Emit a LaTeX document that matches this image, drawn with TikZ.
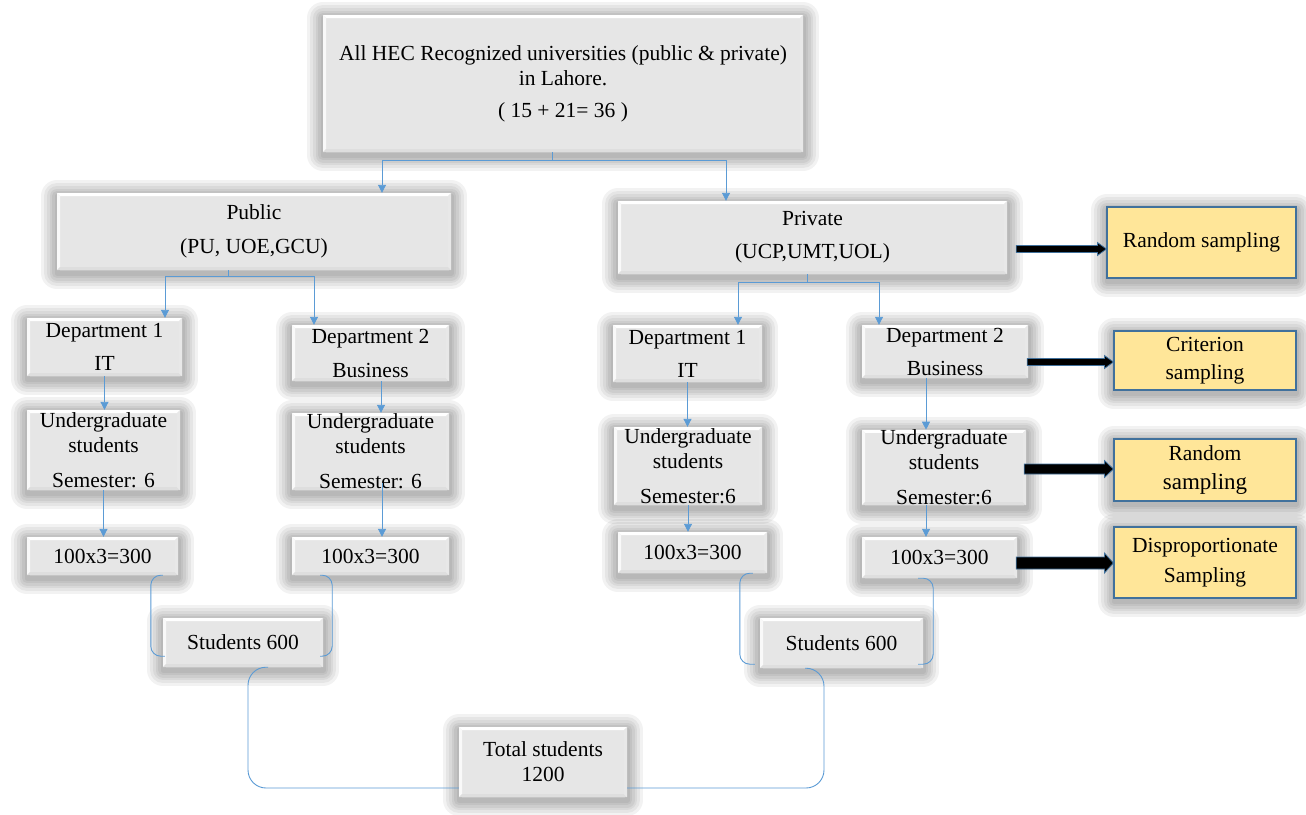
\documentclass[tikz,border=0pt]{standalone}
\usepackage{fontspec}
\setmainfont{Liberation Serif}
\usetikzlibrary{arrows.meta,calc}
\definecolor{boxgray}{HTML}{E6E6E6}
\definecolor{conblue}{HTML}{5B9BD5}
\definecolor{sampfill}{HTML}{FFE699}
\definecolor{sampline}{HTML}{41719C}
\tikzset{
  glowlayer/.style={preaction={draw=black,draw opacity=0.05,line width=#1,line join=round,fill opacity=0,transform canvas={yshift=-3pt}}},
  glow/.style={glowlayer=32pt,glowlayer=26pt,glowlayer=20pt,glowlayer=15pt,glowlayer=10pt,glowlayer=5pt},
  bevel/.style={path picture={
    \fill[white] (path picture bounding box.north west) -- (path picture bounding box.north east)
      -- ([shift={(-3pt,-3pt)}]path picture bounding box.north east) -- ([shift={(3pt,-3pt)}]path picture bounding box.north west) -- cycle;
    \fill[white!75!boxgray] (path picture bounding box.north west) -- (path picture bounding box.south west)
      -- ([shift={(3pt,3pt)}]path picture bounding box.south west) -- ([shift={(3pt,-3pt)}]path picture bounding box.north west) -- cycle;
    \fill[black!13] (path picture bounding box.south west) -- (path picture bounding box.south east)
      -- ([shift={(-3pt,3pt)}]path picture bounding box.south east) -- ([shift={(3pt,3pt)}]path picture bounding box.south west) -- cycle;
    \fill[black!9] (path picture bounding box.north east) -- (path picture bounding box.south east)
      -- ([shift={(-3pt,3pt)}]path picture bounding box.south east) -- ([shift={(-3pt,-3pt)}]path picture bounding box.north east) -- cycle;
  }},
  gbox/.style={glow,bevel,fill=boxgray,draw=none,inner sep=0pt,align=center,font=\fontsize{21.5}{25}\selectfont},
  ybox/.style={glow,fill=sampfill,draw=sampline,line width=1.2pt,inner sep=0pt,align=center,font=\fontsize{21.5}{25}\selectfont},
  conn/.style={draw=conblue,line width=0.9pt},
  tip/.style={-{Triangle[length=8pt,width=8pt]}},
}
\newcommand\blockarrow[4]{%
  \filldraw[fill=black,draw=sampline,line width=0.8pt,line join=miter]
    ($(#1)+(0,#3)$) -- ($(#2)+(-9,#3)$) -- ($(#2)+(-9,#4)$) -- (#2)
    -- ($(#2)+(-9,-#4)$) -- ($(#2)+(-9,-#3)$) -- ($(#1)+(0,-#3)$) -- cycle;}
\begin{document}
\begin{tikzpicture}[x=1pt,y=-1pt]
\fill[white] (0,0) rectangle (1306,814);
\useasboundingbox (0,0) rectangle (1306,814);

% top
\node[gbox,minimum width=480,minimum height=137] (top) at (563,83.5)
  {All HEC Recognized universities (public \& private)\\in Lahore.\\[7pt]( 15 + 21= 36 )};

% public branch
\node[gbox,minimum width=394,minimum height=77] (pub) at (254,231.5) {Public\\[9pt](PU, UOE,GCU)};
\node[gbox,minimum width=155,minimum height=58] (pd1) at (104.5,347) {Department 1\\[8pt]IT};
\node[gbox,minimum width=157,minimum height=56] (pd2) at (370.5,353) {Department 2\\[9pt]Business};
\node[gbox,minimum width=153,minimum height=80] (pu1) at (103.5,450) {Undergraduate\\students\\[10pt]Semester: 6};
\node[gbox,minimum width=157,minimum height=77] (pu2) at (370.5,451.5) {Undergraduate\\students\\[10pt]Semester: 6};
\node[gbox,minimum width=151,minimum height=38] (pn1) at (102.5,556) {100x3=300};
\node[gbox,minimum width=157,minimum height=38] (pn2) at (370.5,556) {100x3=300};
\node[gbox,minimum width=160,minimum height=49] (ps) at (243,642.5) {Students 600};

% private branch
\node[gbox,minimum width=389,minimum height=73] (priv) at (812.5,237.5) {Private\\[8pt](UCP,UMT,UOL)};
\node[gbox,minimum width=149,minimum height=57] (rd1) at (687.5,353.5) {Department 1\\[8pt]IT};
\node[gbox,minimum width=166,minimum height=53] (rd2) at (945,351.5) {Department 2\\[8pt]Business};
\node[gbox,minimum width=148,minimum height=78] (ru1) at (688,466) {Undergraduate\\students\\[10pt]Semester:6};
\node[gbox,minimum width=164,minimum height=75] (ru2) at (944,467.5) {Undergraduate\\students\\[10pt]Semester:6};
\node[gbox,minimum width=149,minimum height=41] (rn1) at (692.5,552.5) {100x3=300};
\node[gbox,minimum width=155,minimum height=41] (rn2) at (939.5,557.5) {100x3=300};
\node[gbox,minimum width=163,minimum height=50] (rs) at (841.5,643) {Students 600};

% total
\node[gbox,minimum width=168,minimum height=70] (total) at (543,762) {Total students\\1200};

% sampling boxes
\node[ybox,minimum width=189,minimum height=71] (y1) at (1201.5,242.5) {Random sampling};
\node[ybox,minimum width=182,minimum height=59] (y2) at (1205,360.5) {Criterion\\[3pt]sampling};
\node[ybox,minimum width=182,minimum height=62] (y3) at (1205,470) {Random\\[4pt]{\fontsize{23}{25}\selectfont sampling}};
\node[ybox,minimum width=182,minimum height=71] (y4) at (1205,562.5) {Disproportionate\\[5pt]Sampling};

% connectors from top
\draw[conn] ([xshift=-11pt]top.south) -- ++(0,8) coordinate (tj);
\draw[conn,tip] (tj) -| ([xshift=128pt]pub.north);
\draw[conn,tip] (tj) -| ([xshift=-86.5pt]priv.north);

% public connectors
\draw[conn] ([xshift=-26pt]pub.south) -- ++(0,6) coordinate (pj);
\draw[conn,tip] (pj) -| ([xshift=60.5pt]pd1.north);
\draw[conn,tip] (pj) -| ([xshift=-56.5pt]pd2.north);
\draw[conn,tip] (pd1.south) -- (pd1.south |- pu1.north);
\draw[conn,tip] (pu1.south) -- (pu1.south |- pn1.north);
\coordinate (c1) at ($(pd2.south)+(10.5,0)$);
\draw[conn,tip] (c1) -- (c1 |- pu2.north);
\coordinate (c2) at ($(pu2.south)+(11.5,-7)$);
\draw[conn,tip] (c2) -- (c2 |- pn2.north);

% private connectors
\draw[conn] ([xshift=-5.5pt]priv.south) -- ++(0,8) coordinate (rj);
\draw[conn,tip] (rj) -| ([xshift=50.5pt]rd1.north);
\draw[conn,tip] (rj) -| ([xshift=-66pt]rd2.north);
\draw[conn,tip] (rd1.south) -- (rd1.south |- ru1.north);
\draw[conn,tip] (ru1.south) -- (ru1.south |- rn1.north);
\coordinate (c3) at ($(rd2.south)+(-19,0)$);
\draw[conn,tip] (c3) -- (c3 |- ru2.north);
\coordinate (c4) at ($(ru2.south)+(-18,0)$);
\draw[conn,tip] (c4) -- (c4 |- rn2.north);

% brackets to Students 600
\draw[conn,rounded corners=10pt] (ps.west |- pn1.south) -- ++(-12,0) |- ($(ps.south west)+(2,-11)$);
\draw[conn,rounded corners=10pt] ($(ps.east |- pn2.south)+(-3,0)$) -- ++(12,0) |- ($(ps.south east)+(-3,-11)$);
\draw[conn,rounded corners=10pt] ($(rs.west |- rn1.south)+(-7,0)$) -- ++(-13,0) |- ($(rs.south west)+(-5,-4)$);
\draw[conn,rounded corners=10pt] ($(rs.east |- rn2.south)+(-5,0)$) -- ++(15,0) |- ($(rs.south east)+(-5,-4)$);

% brackets to total
\draw[conn,rounded corners=18pt] ($(ps.south)+(25,0)$) -- ++(-20,0) |- ($(total.west)+(0,26)$);
\draw[conn,rounded corners=18pt] ($(rs.south)+(-36.5,0)$) -- ++(19,0) |- ($(total.east)+(0,26)$);

% block arrows to sampling boxes
\coordinate (a1) at ($(priv.east)+(9,11.5)$);
\coordinate (a1e) at (a1 -| y1.west);
\blockarrow{a1}{a1e}{3.5}{6.5}
\coordinate (a2) at ($(rd2.east)+(-1,10.5)$);
\coordinate (a2e) at (a2 -| y2.west);
\blockarrow{a2}{a2e}{3.5}{6.5}
\coordinate (a3) at ($(ru2.east)+(-2,1.5)$);
\coordinate (a3e) at (a3 -| y3.west);
\blockarrow{a3}{a3e}{5}{8.5}
\coordinate (a4) at ($(rn2.east)+(-1,5.5)$);
\coordinate (a4e) at (a4 -| y4.west);
\blockarrow{a4}{a4e}{6}{10}
\end{tikzpicture}
\end{document}
